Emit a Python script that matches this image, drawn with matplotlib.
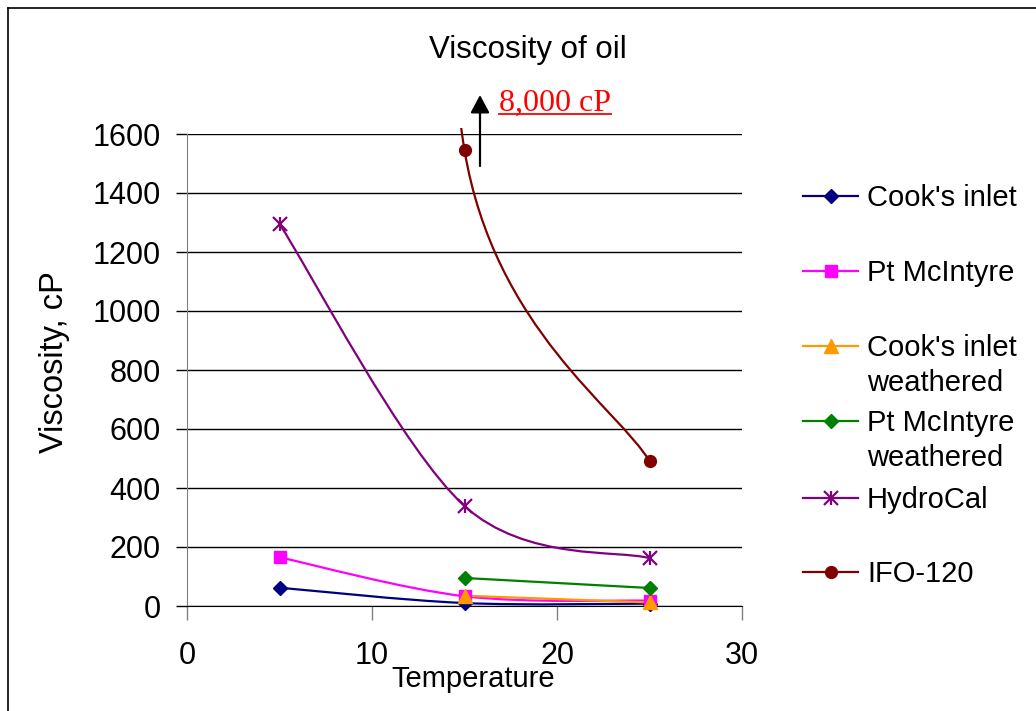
import matplotlib
matplotlib.use("Agg")
import matplotlib.pyplot as plt
import numpy as np
from matplotlib.path import Path
from matplotlib.patches import PathPatch, Rectangle
from matplotlib.lines import Line2D

plt.rcParams['font.family'] = ['Liberation Sans', 'DejaVu Sans']

# data (temperature in C, viscosity in cP)
temps = [5, 15, 25]
weathered_temps = [15, 25]
cooks_inlet = [62, 10, 8]
pt_mcintyre = [165, 33, 18]
cooks_inlet_weathered = [35, 12]
pt_mcintyre_weathered = [95, 61]
hydrocal = [1295, 339, 162]
ifo_120 = [8000, 1545, 491]

labels = ["Cook's inlet", "Pt McIntyre", "Cook's inlet\nweathered",
          "Pt McIntyre\nweathered", "HydroCal", "IFO-120"]
colors = ["#000080", "#FF00FF", "#FF9900", "#008000", "#800080", "#800000"]
markers = ["D", "s", "^", "D", "*", "o"]
x_ticks = [0, 10, 20, 30]
y_ticks = [0, 200, 400, 600, 800, 1000, 1200, 1400, 1600]

series = [
    (temps, cooks_inlet),
    (temps, pt_mcintyre),
    (weathered_temps, cooks_inlet_weathered),
    (weathered_temps, pt_mcintyre_weathered),
    (temps, hydrocal),
    (temps, ifo_120),
]

MARKER_SIZE = {"D": 7.5, "s": 8, "^": 9.5, "o": 8.5}

W, H = 1036, 711
fig = plt.figure(figsize=(W / 100, H / 100), dpi=100)
ax_l, ax_r, ax_t, ax_b = 187, 742, 134, 606
ax = fig.add_axes([ax_l / W, (H - ax_b) / H, (ax_r - ax_l) / W, (ax_b - ax_t) / H])
ax.set_xlim(0, 30)
ax.set_ylim(0, 1600)

# pixels per data unit, so the smoothing behaves like Excel's (done on screen)
sx = (ax_r - ax_l) / 30.0
sy = (ax_b - ax_t) / 1600.0


def smooth_path(xs, ys):
    """Bezier path through the points, Excel style smoothed line."""
    pts = np.column_stack([np.asarray(xs, float) * sx, np.asarray(ys, float) * sy])
    n = len(pts)
    tang, lens = [], []
    for i in range(n):
        a = pts[max(i - 1, 0)]
        b = pts[min(i + 1, n - 1)]
        d = b - a
        tang.append(d / np.hypot(*d))
        if 0 < i < n - 1:
            d01 = np.hypot(*(pts[i] - a))
            d12 = np.hypot(*(b - pts[i]))
            lens.append(min(np.hypot(*d) / 6.0, d01 / 2.0, d12 / 2.0))
        else:
            lens.append(np.hypot(*d) / 6.0)
    verts = [pts[0]]
    codes = [Path.MOVETO]
    for i in range(n - 1):
        verts += [pts[i] + lens[i] * tang[i], pts[i + 1] - lens[i + 1] * tang[i + 1], pts[i + 1]]
        codes += [Path.CURVE4] * 3
    verts = np.array(verts) / [sx, sy]
    return Path(verts, codes)


def draw_marker(target, x, y, mk, col):
    if mk == "*":
        out = []
        for m in ["x", "|"]:
            out.append(target(x, y, m, col, 10, 1.6))
        return out
    return [target(x, y, mk, col, MARKER_SIZE[mk], 1.0)]


clip = Rectangle((0, -0.05), 1, 1.063, transform=ax.transAxes)


def ax_marker(x, y, m, col, ms, mew):
    ln, = ax.plot(x, y, linestyle="none", marker=m, color=col, markersize=ms,
                  markeredgewidth=mew, markeredgecolor=col, zorder=4)
    ln.set_clip_path(clip)
    return ln


for (xs, ys), col, mk in zip(series, colors, markers):
    patch = PathPatch(smooth_path(xs, ys), facecolor="none", edgecolor=col, lw=1.6, zorder=3)
    ax.add_patch(patch)
    patch.set_clip_path(clip)
    draw_marker(ax_marker, xs, ys, mk, col)

ax.set_xticks(x_ticks)
ax.set_yticks(y_ticks)
ax.tick_params(axis="x", labelsize=22, direction="out", length=10, width=1,
               color="#808080", pad=15)
ax.tick_params(axis="y", labelsize=22, direction="out", length=8, width=1,
               color="black", pad=11)
ax.yaxis.grid(True, color="black", lw=1)
ax.set_axisbelow(True)
for s in ["top", "right"]:
    ax.spines[s].set_visible(False)
ax.spines["left"].set_color("#808080")
ax.spines["bottom"].set_color("black")

# titles and axis labels
fig.text(528 / W, 1 - 58 / H, "Viscosity of oil", fontsize=22.5, ha="center", va="baseline")
fig.text(473 / W, 1 - 687 / H, "Temperature", fontsize=21, ha="center", va="baseline")
fig.text(54 / W, 1 - 362 / H, "Viscosity, cP", fontsize=23.5, rotation=90,
         ha="center", va="center")

# note about the off-scale IFO-120 point
note = fig.text(499 / W, 1 - 111 / H, "8,000 cP", fontsize=23, color="red",
                family=["Liberation Serif", "DejaVu Serif"], ha="left", va="baseline")
fig.canvas.draw()
bb = note.get_window_extent().transformed(fig.transFigure.inverted())
fig.add_artist(Line2D([bb.x0, bb.x1], [1 - 114 / H] * 2, color="red", lw=1.3))
ax.annotate("", xy=(480 / W, 1 - 95 / H), xytext=(480 / W, 1 - 166 / H),
            xycoords="figure fraction", textcoords="figure fraction",
            arrowprops=dict(arrowstyle="-|>,head_length=0.6,head_width=0.32",
                            mutation_scale=18, color="black", lw=1.6,
                            shrinkA=0, shrinkB=0))


def fig_marker(x, y, m, col, ms, mew):
    ln = Line2D(x, y, marker=m, color=col, markersize=ms, markeredgewidth=mew,
                markeredgecolor=col, linestyle="none")
    fig.add_artist(ln)
    return ln


# legend drawn by hand so markers line up with the first text line
baselines = [206, 281, 356, 431, 508, 582]
for lab, col, mk, base in zip(labels, colors, markers, baselines):
    yc = 1 - (base - 10.5) / H
    fig.add_artist(Line2D([803 / W, 858 / W], [yc, yc], color=col, lw=1.6))
    draw_marker(fig_marker, [830.5 / W], [yc], mk, col)
    for k, line in enumerate(lab.split("\n")):
        fig.text(867 / W, 1 - (base + 35 * k) / H, line, fontsize=21, ha="left", va="baseline")

# chart border (only left and top edges fall inside the picture)
fig.add_artist(Line2D([8 / W, 8 / W], [0, 1 - 8 / H], color="black", lw=1.2))
fig.add_artist(Line2D([8 / W, 1], [1 - 8 / H, 1 - 8 / H], color="black", lw=1.2))

fig.savefig("out.png", dpi=100)
